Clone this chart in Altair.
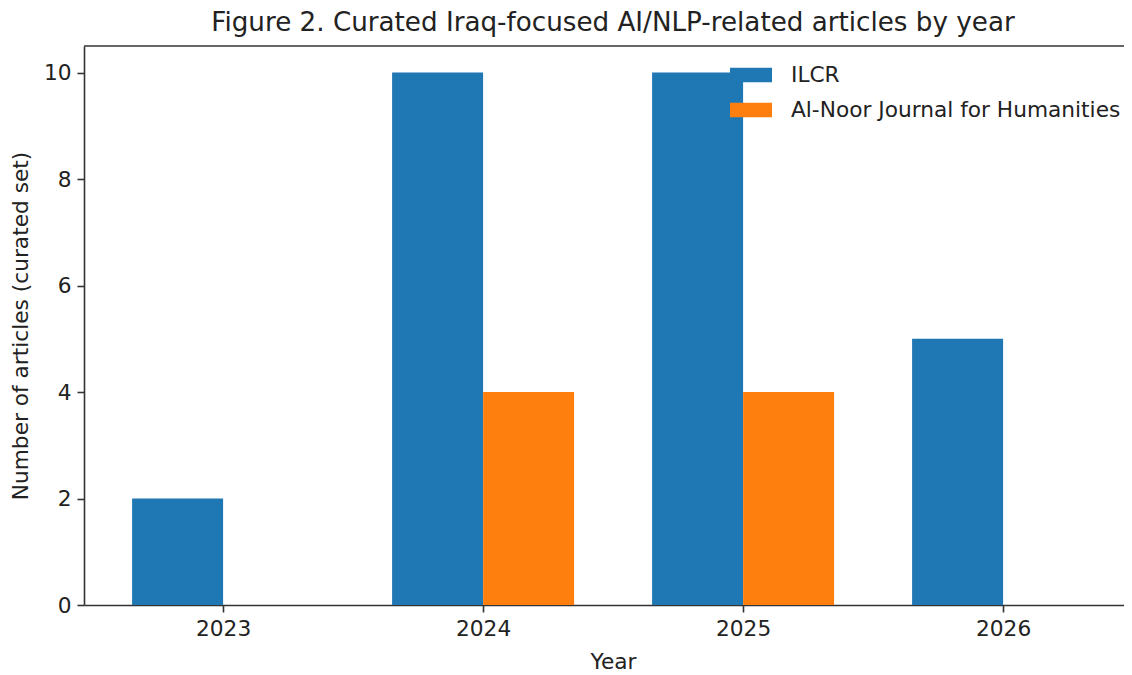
import altair as alt
import pandas as pd

years = [2023, 2024, 2025, 2026]
ilcr_counts = [2, 10, 10, 5]
alnoor_counts = [0, 4, 4, 0]
series_names = ["ILCR", "Al-Noor Journal for Humanities"]
series_colors = ["#1f77b4", "#ff7f0e"]
bar_width = 0.35

rows = []
for yr, a, b in zip(years, ilcr_counts, alnoor_counts):
    rows.append({"year": yr, "series": series_names[0], "count": a, "side": -1})
    rows.append({"year": yr, "series": series_names[1], "count": b, "side": 0})
df = pd.DataFrame(rows)

FONT = "DejaVu Sans"
TXT = "#222222"
AX = "#333333"
W, H = 1040, 559
FS = 21.7

bars = (
    alt.Chart(df)
    .transform_calculate(
        start=f"datum.year + datum.side * {bar_width}",
        end=f"datum.year + (datum.side + 1) * {bar_width}",
    )
    .mark_rect(strokeWidth=0)
    .encode(
        x=alt.X(
            "start:Q",
            scale=alt.Scale(domain=[2022.465, 2026.465], nice=False, zero=False),
            axis=alt.Axis(values=years, format="d", title="Year", grid=False,
                          titleX=529, titlePadding=12),
        ),
        x2="end:Q",
        y=alt.Y(
            "count:Q",
            scale=alt.Scale(domain=[0, 10.5], nice=False),
            axis=alt.Axis(values=[0, 2, 4, 6, 8, 10], title="Number of articles (curated set)",
                          grid=False, titlePadding=11),
        ),
        y2=alt.datum(0),
        color=alt.Color(
            "series:N",
            scale=alt.Scale(domain=series_names, range=series_colors),
            legend=alt.Legend(
                title=None,
                orient="none",
                legendX=646,
                legendY=8,
                symbolType="M-1,-0.35L1,-0.35L1,0.35L-1,0.35Z",
                symbolSize=1764,
                symbolStrokeWidth=0,
                symbolOpacity=1,
                labelFont=FONT,
                labelFontSize=FS,
                labelColor=TXT,
                labelOffset=19,
                rowPadding=2,
                labelLimit=500,
            ),
        ),
    )
)

spine = (
    alt.Chart(pd.DataFrame({"k": [0]}))
    .mark_rule(color=AX, strokeWidth=1.6)
    .encode(x=alt.value(0), x2=alt.value(W), y=alt.value(0))
)

chart = (
    alt.layer(bars, spine)
    .properties(
        width=W,
        height=H,
        autosize=alt.AutoSizeParams(type="none"),
        padding={"left": 76, "top": 38, "right": 0, "bottom": 68},
        title=alt.TitleParams(
            "Figure 2. Curated Iraq-focused AI/NLP-related articles by year",
            font=FONT,
            fontSize=26.2,
            fontWeight="normal",
            color=TXT,
            anchor="middle",
            dx=9,
            offset=9,
        ),
    )
    .configure_view(stroke=None)
    .configure_axis(
        domainColor=AX,
        domainWidth=1.6,
        tickColor=AX,
        tickWidth=1.6,
        tickSize=7,
        labelFont=FONT,
        labelFontSize=FS,
        labelColor=TXT,
        labelPadding=6,
        titleFont=FONT,
        titleFontSize=FS,
        titleFontWeight="normal",
        titleColor=TXT,
    )
)

chart.save("out.html", embed_options={"renderer": "svg", "actions": False})
